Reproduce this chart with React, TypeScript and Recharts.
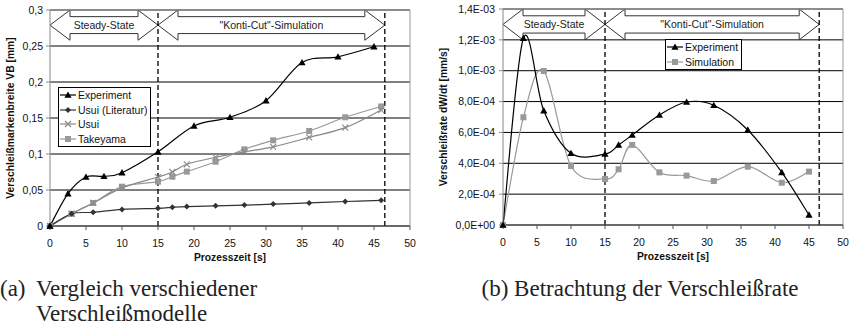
import React from 'react';
import {
    LineChart,
    Line,
    XAxis,
    YAxis,
    CartesianGrid,
    ReferenceLine,
    ReferenceArea,
    Legend,
} from 'recharts';

// (a) Verschleißmarkenbreite VB [mm] über Prozesszeit [s]
const expTime = [0, 2.5, 5, 7.5, 10, 15, 20, 25, 30, 35, 40, 45];
const expVB = [0, 0.045, 0.068, 0.069, 0.074, 0.103, 0.139, 0.151, 0.174, 0.227, 0.235, 0.249];
const modelTime = [0, 3, 6, 10, 15, 17, 19, 23, 27, 31, 36, 41, 46];
const usuiLitVB = [0, 0.017, 0.019, 0.023, 0.0245, 0.026, 0.027, 0.028, 0.029, 0.0305, 0.032, 0.034, 0.0357];
const usuiVB = [0, 0.017, 0.032, 0.053, 0.068, 0.075, 0.0857, 0.0954, 0.103, 0.11, 0.123, 0.1366, 0.161];
const takeyamaVB = [0, 0.017, 0.032, 0.0546, 0.0616, 0.0685, 0.0755, 0.0893, 0.1065, 0.119, 0.132, 0.151, 0.166];

// (b) Verschleißrate dW/dt [mm/s]
const rateTime = [0, 3, 6, 10, 15, 17, 19, 23, 27, 31, 36, 41, 45];
const expRate = [0, 1.21e-3, 7.41e-4, 4.65e-4, 4.6e-4, 5.19e-4, 5.83e-4, 7.13e-4, 7.97e-4, 7.76e-4, 6.16e-4, 3.41e-4, 6.5e-5];
const simRate = [0, 6.98e-4, 9.98e-4, 3.82e-4, 2.98e-4, 3.61e-4, 5.19e-4, 3.41e-4, 3.2e-4, 2.85e-4, 3.78e-4, 2.74e-4, 3.46e-4];

const timeTicks = [0, 5, 10, 15, 20, 25, 30, 35, 40, 45, 50];
const vbTicks = [0, 0.05, 0.1, 0.15, 0.2, 0.25, 0.3];
const vbTickLabels = ['0', '0,05', '0,1', '0,15', '0,2', '0,25', '0,3'];
const rateTicks = [0, 2e-4, 4e-4, 6e-4, 8e-4, 1e-3, 1.2e-3, 1.4e-3];
const rateTickLabels = ['0,0E+00', '2,0E-04', '4,0E-04', '6,0E-04', '8,0E-04', '1,0E-03', '1,2E-03', '1,4E-03'];

const phaseLabels = ['Steady-State', '"Konti-Cut"-Simulation'];
const phaseBounds = [0, 15, 46.5];

const FONT = '"Liberation Sans", Arial, sans-serif';
const SERIF = '"Liberation Serif", serif';

const toPoints = (ts: number[], vs: number[]) => ts.map((t, i) => ({ t, v: vs[i] }));

// Excel-artige Glättung (Catmull-Rom als Bezier)
const excelSmooth: any = (ctx: any) => {
    let pts: number[][] = [];
    return {
        areaStart() {},
        areaEnd() {},
        lineStart() {
            pts = [];
        },
        point(x: number, y: number) {
            pts.push([+x, +y]);
        },
        lineEnd() {
            if (!pts.length) return;
            ctx.moveTo(pts[0][0], pts[0][1]);
            for (let i = 0; i < pts.length - 1; i++) {
                const a = pts[i - 1] || pts[i];
                const b = pts[i];
                const c = pts[i + 1];
                const d = pts[i + 2] || c;
                ctx.bezierCurveTo(
                    b[0] + (c[0] - a[0]) / 6,
                    b[1] + (c[1] - a[1]) / 6,
                    c[0] - (d[0] - b[0]) / 6,
                    c[1] - (d[1] - b[1]) / 6,
                    c[0],
                    c[1],
                );
            }
        },
    };
};

type Marker = 'triangle' | 'diamond' | 'cross' | 'square';

function markerShape(kind: Marker, cx: number, cy: number, color: string, key?: string) {
    if (kind === 'triangle') {
        return <path key={key} d={`M${cx},${cy - 3.6}L${cx + 3.6},${cy + 2.8}L${cx - 3.6},${cy + 2.8}Z`} fill={color} />;
    }
    if (kind === 'diamond') {
        return <path key={key} d={`M${cx},${cy - 3}L${cx + 3},${cy}L${cx},${cy + 3}L${cx - 3},${cy}Z`} fill={color} />;
    }
    if (kind === 'cross') {
        return (
            <path
                key={key}
                d={`M${cx - 3},${cy - 3}L${cx + 3},${cy + 3}M${cx - 3},${cy + 3}L${cx + 3},${cy - 3}`}
                stroke={color}
                strokeWidth={1.1}
                fill="none"
            />
        );
    }
    return <rect key={key} x={cx - 3} y={cy - 3} width={6} height={6} fill={color} />;
}

const dotOf = (kind: Marker, color: string) => (p: any) => {
    if (p.cx == null || p.cy == null) return <g key={`e${p.index}`} />;
    return markerShape(kind, p.cx, p.cy, color, `${kind}${p.index}`);
};

type Item = { name: string; color: string; marker: Marker };

const wearItems: Item[] = [
    { name: 'Experiment', color: '#000', marker: 'triangle' },
    { name: 'Usui (Literatur)', color: '#333', marker: 'diamond' },
    { name: 'Usui', color: '#888', marker: 'cross' },
    { name: 'Takeyama', color: '#999', marker: 'square' },
];

const rateItems: Item[] = [
    { name: 'Experiment', color: '#000', marker: 'triangle' },
    { name: 'Simulation', color: '#999', marker: 'square' },
];

const LegendBox = ({ items }: { items: Item[] }) => (
    <div
        style={{
            border: '1px solid #000',
            background: '#fff',
            padding: '0 3px 0 1px',
            fontFamily: FONT,
            fontSize: 10.5,
            color: '#111',
        }}
    >
        {items.map((it) => (
            <div key={it.name} style={{ display: 'flex', alignItems: 'center', height: 14.6 }}>
                <svg width={16} height={10}>
                    <line x1={0} y1={5} x2={16} y2={5} stroke={it.color} strokeWidth={1.2} />
                    {markerShape(it.marker, 8, 5, it.color)}
                </svg>
                <span style={{ marginLeft: 2, whiteSpace: 'nowrap' }}>{it.name}</span>
            </div>
        ))}
    </div>
);

const phaseArrow = (label: string) => (p: any) => {
    const { x, y, width: w, height: h } = p;
    const hl = 20;
    const t = y + h * 0.22;
    const b = y + h * 0.78;
    const m = y + h / 2;
    const pts = [
        [x, m],
        [x + hl, y],
        [x + hl, t],
        [x + w - hl, t],
        [x + w - hl, y],
        [x + w, m],
        [x + w - hl, y + h],
        [x + w - hl, b],
        [x + hl, b],
        [x + hl, y + h],
    ];
    return (
        <g>
            <polygon points={pts.map((q) => q.join(',')).join(' ')} fill="#fff" stroke="#333" strokeWidth={1} />
            <text
                x={x + w / 2}
                y={m}
                dominantBaseline="central"
                textAnchor="middle"
                fontFamily={FONT}
                fontSize={10.5}
                fill="#222"
            >
                {label}
            </text>
        </g>
    );
};

const xTitle = (props: any) => {
    const vb = props.viewBox;
    return (
        <text
            x={vb.x + vb.width / 2}
            y={vb.y + 35}
            textAnchor="middle"
            fontFamily={FONT}
            fontSize={10.3}
            fontWeight="bold"
            fill="#111"
        >
            Prozesszeit [s]
        </text>
    );
};

const yTitle = (text: string, cx: number) => (props: any) => {
    const vb = props.viewBox;
    const cy = vb.y + vb.height / 2;
    return (
        <text
            x={cx}
            y={cy}
            transform={`rotate(-90 ${cx} ${cy})`}
            textAnchor="middle"
            dominantBaseline="central"
            fontFamily={FONT}
            fontSize={10.3}
            fontWeight="bold"
            fill="#111"
        >
            {text}
        </text>
    );
};

const tickStyle = { fontFamily: FONT, fontSize: 10.5, fill: '#111' };

export default function App() {
    const wearTop = 0.3;
    const rateTop = 1.4e-3;
    return (
        <div
            style={{
                position: 'absolute',
                left: 0,
                top: 0,
                width: 854,
                height: 328,
                background: '#fff',
                overflow: 'hidden',
            }}
        >
            <div style={{ position: 'absolute', left: 0, top: 0 }}>
                <LineChart width={425} height={270} margin={{ top: 10, right: 15, bottom: 0, left: 0 }}>
                    <CartesianGrid horizontal vertical={false} stroke="#000" strokeWidth={1} />
                    <XAxis
                        type="number"
                        dataKey="t"
                        domain={[0, 50]}
                        ticks={timeTicks}
                        interval={0}
                        height={44}
                        tickSize={4}
                        tickMargin={10}
                        tick={tickStyle}
                        axisLine={{ stroke: '#555' }}
                        tickLine={{ stroke: '#555' }}
                        label={{ content: xTitle }}
                    />
                    <YAxis
                        type="number"
                        domain={[0, wearTop]}
                        ticks={vbTicks}
                        interval={0}
                        width={50}
                        tickSize={4}
                        tickMargin={3}
                        tick={tickStyle}
                        tickFormatter={(v: number) => vbTickLabels[vbTicks.indexOf(v)] ?? String(v)}
                        axisLine={{ stroke: '#888' }}
                        tickLine={{ stroke: '#888' }}
                        label={{ content: yTitle('Verschleißmarkenbreite VB [mm]', 10.5) }}
                    />
                    <ReferenceLine y={wearTop} stroke="#999" />
                    <ReferenceLine x={50} stroke="#999" />
                    {phaseLabels.map((lab, i) => (
                        <ReferenceArea
                            key={lab}
                            x1={phaseBounds[i]}
                            x2={phaseBounds[i + 1]}
                            y1={0.258}
                            y2={wearTop}
                            shape={phaseArrow(lab)}
                        />
                    ))}
                    {phaseBounds.slice(1).map((b) => (
                        <ReferenceLine key={b} x={b} stroke="#000" strokeWidth={1.3} strokeDasharray="5 3" />
                    ))}
                    <Line
                        data={toPoints(modelTime, takeyamaVB)}
                        dataKey="v"
                        name="Takeyama"
                        type={excelSmooth}
                        stroke="#999"
                        strokeWidth={1.2}
                        dot={dotOf('square', '#999')}
                        isAnimationActive={false}
                    />
                    <Line
                        data={toPoints(modelTime, usuiVB)}
                        dataKey="v"
                        name="Usui"
                        type={excelSmooth}
                        stroke="#888"
                        strokeWidth={1.2}
                        dot={dotOf('cross', '#888')}
                        isAnimationActive={false}
                    />
                    <Line
                        data={toPoints(modelTime, usuiLitVB)}
                        dataKey="v"
                        name="Usui (Literatur)"
                        type={excelSmooth}
                        stroke="#333"
                        strokeWidth={1.2}
                        dot={dotOf('diamond', '#333')}
                        isAnimationActive={false}
                    />
                    <Line
                        data={toPoints(expTime, expVB)}
                        dataKey="v"
                        name="Experiment"
                        type={excelSmooth}
                        stroke="#000"
                        strokeWidth={1.2}
                        dot={dotOf('triangle', '#000')}
                        isAnimationActive={false}
                    />
                    <Legend
                        layout="vertical"
                        align="center"
                        verticalAlign="middle"
                        wrapperStyle={{ left: 58, top: 87, width: 'auto' }}
                        content={() => <LegendBox items={wearItems} />}
                    />
                </LineChart>
            </div>

            <div style={{ position: 'absolute', left: 425, top: 0 }}>
                <LineChart width={429} height={270} margin={{ top: 9, right: 11, bottom: 1, left: 0 }}>
                    <CartesianGrid horizontal vertical={false} stroke="#000" strokeWidth={1} />
                    <XAxis
                        type="number"
                        dataKey="t"
                        domain={[0, 50]}
                        ticks={timeTicks}
                        interval={0}
                        height={44}
                        tickSize={4}
                        tickMargin={10}
                        tick={tickStyle}
                        axisLine={{ stroke: '#555' }}
                        tickLine={{ stroke: '#555' }}
                        label={{ content: xTitle }}
                    />
                    <YAxis
                        type="number"
                        domain={[0, rateTop]}
                        ticks={rateTicks}
                        interval={0}
                        width={78}
                        tickSize={4}
                        tickMargin={4}
                        tick={tickStyle}
                        tickFormatter={(v: number) => rateTickLabels[rateTicks.indexOf(v)] ?? String(v)}
                        axisLine={{ stroke: '#888' }}
                        tickLine={{ stroke: '#888' }}
                        label={{ content: yTitle('Verschleißrate dW/dt [mm/s]', 18) }}
                    />
                    <ReferenceLine y={rateTop} stroke="#999" />
                    <ReferenceLine x={50} stroke="#999" />
                    {phaseLabels.map((lab, i) => (
                        <ReferenceArea
                            key={lab}
                            x1={phaseBounds[i]}
                            x2={phaseBounds[i + 1]}
                            y1={1.2e-3}
                            y2={rateTop}
                            shape={phaseArrow(lab)}
                        />
                    ))}
                    {phaseBounds.slice(1).map((b) => (
                        <ReferenceLine key={b} x={b} stroke="#000" strokeWidth={1.3} strokeDasharray="5 3" />
                    ))}
                    <Line
                        data={toPoints(rateTime, simRate)}
                        dataKey="v"
                        name="Simulation"
                        type={excelSmooth}
                        stroke="#999"
                        strokeWidth={1.2}
                        dot={dotOf('square', '#999')}
                        isAnimationActive={false}
                    />
                    <Line
                        data={toPoints(rateTime, expRate)}
                        dataKey="v"
                        name="Experiment"
                        type={excelSmooth}
                        stroke="#000"
                        strokeWidth={1.2}
                        dot={dotOf('triangle', '#000')}
                        isAnimationActive={false}
                    />
                    <Legend
                        layout="vertical"
                        align="center"
                        verticalAlign="middle"
                        wrapperStyle={{ left: 240, top: 39, width: 'auto' }}
                        content={() => <LegendBox items={rateItems} />}
                    />
                </LineChart>
            </div>

            <div
                style={{
                    position: 'absolute',
                    left: 0,
                    top: 276,
                    display: 'flex',
                    fontFamily: SERIF,
                    fontSize: 23,
                    lineHeight: '25px',
                    color: '#222',
                }}
            >
                <div style={{ width: 36 }}>(a)</div>
                <div>
                    Vergleich verschiedener
                    <br />
                    Verschleißmodelle
                </div>
            </div>
            <div
                style={{
                    position: 'absolute',
                    left: 426,
                    top: 276,
                    width: 428,
                    textAlign: 'center',
                    fontFamily: SERIF,
                    fontSize: 23,
                    lineHeight: '25px',
                    color: '#222',
                }}
            >
                (b) Betrachtung der Verschleißrate
            </div>
        </div>
    );
}
